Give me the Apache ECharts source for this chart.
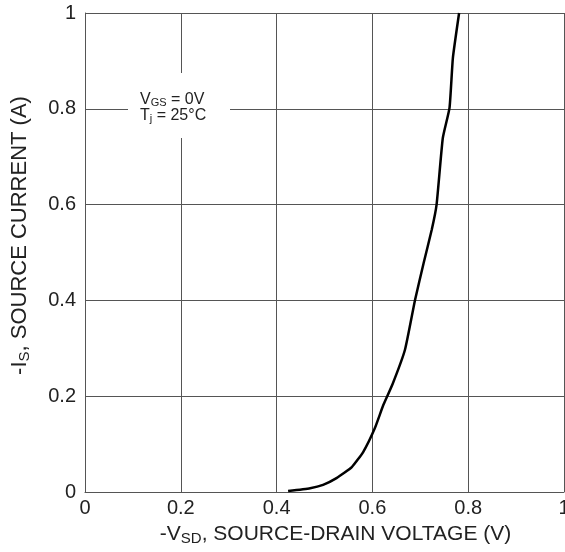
<!DOCTYPE html>
<html>
<head>
<meta charset="utf-8">
<script src="https://cdn.jsdelivr.net/npm/echarts@6/dist/echarts.min.js"></script>
<style>
  html, body { margin: 0; padding: 0; background: #fff; }
  #chart { width: 565px; height: 552px; }
</style>
</head>
<body>
<div id="chart"></div>
<script>
// Source-drain diode forward characteristic.
var vsd = [0.424, 0.470, 0.497, 0.525, 0.557, 0.581, 0.605, 0.623, 0.642, 0.668, 0.689, 0.707, 0.724, 0.734, 0.747, 0.761, 0.768, 0.781];
var isrc = [0.002, 0.008, 0.015, 0.029, 0.052, 0.084, 0.133, 0.182, 0.225, 0.297, 0.401, 0.478, 0.548, 0.600, 0.739, 0.802, 0.906, 1.0];

var xTicks = [0, 0.2, 0.4, 0.6, 0.8, 1];
var yTicks = [0, 0.2, 0.4, 0.6, 0.8, 1];

var FONT = "Liberation Sans, Arial, sans-serif";
var GRID = "#555";
var INK = "#222";

var chart = echarts.init(document.getElementById("chart"), null, { renderer: "canvas" });

var pts = vsd.map(function (v, i) { return [v, isrc[i]]; });

// padding nudges the name along its own direction
function nameStyle(size, subSize, padding) {
  return {
    color: INK, fontSize: size, fontFamily: FONT, padding: padding,
    rich: { sub: { fontSize: subSize, verticalAlign: "bottom", padding: [9, 0, 0, 0], fontFamily: FONT, color: INK } }
  };
}

chart.setOption({
  animation: false,
  textStyle: { fontFamily: FONT },
  grid: { left: 85, right: 1, top: 13, bottom: 60, containLabel: false, outerBoundsMode: "none" },
  xAxis: {
    type: "value", min: 0, max: 1, interval: 0.2,
    name: "-V{sub|SD}, SOURCE-DRAIN VOLTAGE (V)",
    nameLocation: "middle", nameGap: 30,
    nameTextStyle: nameStyle(21, 15, [0, 0, 0, 22]),
    axisLine: { show: true, lineStyle: { color: GRID, width: 1 } },
    axisTick: { show: false },
    axisLabel: {
      color: INK, fontSize: 20, margin: 6, hideOverlap: false,
      formatter: function (v) { return xTicks.indexOf(v) >= 0 ? String(v) : ""; }
    },
    splitLine: { show: true, lineStyle: { color: GRID, width: 1 } }
  },
  yAxis: {
    type: "value", min: 0, max: 1, interval: 0.2,
    name: "-I{sub|S}, SOURCE CURRENT (A)",
    nameLocation: "middle", nameGap: 53, nameRotate: 90,
    nameTextStyle: nameStyle(22, 15, [0, 0, 0, 34]),
    axisLine: { show: true, lineStyle: { color: GRID, width: 1 } },
    axisTick: { show: false },
    axisLabel: {
      color: INK, fontSize: 20, margin: 9,
      formatter: function (v) { return yTicks.indexOf(v) >= 0 ? String(v) : ""; }
    },
    splitLine: { show: true, lineStyle: { color: GRID, width: 1 } }
  },
  series: [{
    type: "line",
    data: pts,
    smooth: 0.15,
    symbol: "none",
    lineStyle: { color: "#000", width: 2.5 },
    clip: false
  }],
  graphic: [{
    // white knock-out behind the test-condition note
    type: "rect", z: 10,
    shape: { x: 128, y: 73, width: 102, height: 65 },
    style: { fill: "#fff" }
  }, {
    type: "text", z: 11,
    left: 140, top: 92,
    style: {
      text: "V{sub|GS} = 0V\nT{sub|j} = 25°C",
      fontSize: 16, fontFamily: FONT, fill: INK,
      lineHeight: 16,
      rich: { sub: { fontSize: 11, verticalAlign: "bottom", padding: [6, 0, 0, 0], fontFamily: FONT, fill: INK } }
    }
  }]
});
</script>
</body>
</html>
